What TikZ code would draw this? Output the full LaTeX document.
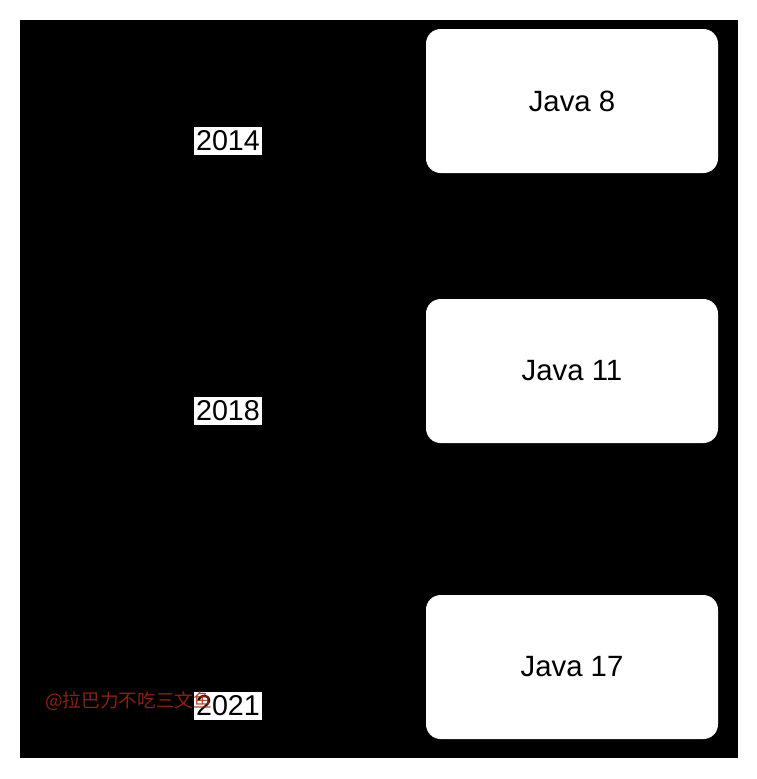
\documentclass[tikz,border=0pt]{standalone}
\usepackage{fontspec}
\setmainfont{Liberation Sans}
\newfontfamily\cjkfont{Noto Sans CJK SC}
\definecolor{markred}{RGB}{165,38,12}

\begin{document}
\begin{tikzpicture}[x=0.75pt,y=-0.75pt,
    release/.style={draw=none,fill=white,rounded corners=11pt,
        minimum width=219pt,minimum height=108pt,
        font=\fontsize{22}{26}\selectfont},
    year/.style={fill=white,inner xsep=1.5pt,inner ysep=3pt,
        font=\fontsize{21.5}{25}\selectfont}]
    \useasboundingbox (0,0) rectangle (757,779);
    \fill[black] (20,20) rectangle (738,758);
    %
    \node[release] (j8)  at (572,101) {Java 8};
    \node[release] (j11) at (572,371) {Java 11};
    \node[release] (j17) at (572,667) {Java 17};
    %
    \node[year] (y2014) at (228,141) {2014};
    \node[year] (y2018) at (228,411) {2018};
    \node[year] (y2021) at (228,706) {2021};
    %
    \node[anchor=west,inner sep=0pt,text=markred,opacity=0.85,
        font=\cjkfont\fontsize{14}{17}\selectfont] (wmark) at (45,701) {@拉巴力不吃三文鱼};
\end{tikzpicture}
\end{document}
